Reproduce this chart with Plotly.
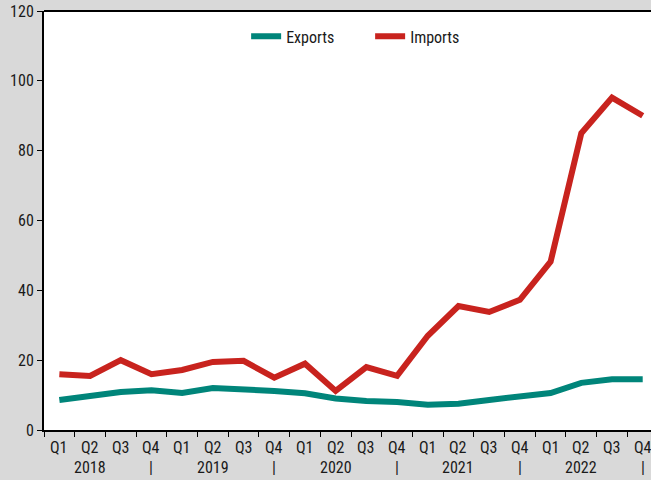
import plotly.graph_objects as go

quarters = ["Q1", "Q2", "Q3", "Q4"] * 5
years = ["2018", "2019", "2020", "2021", "2022"]
exports = [8.6, 9.7, 10.9, 11.4, 10.6, 12.0, 11.7, 11.2, 10.5, 9.0,
           8.3, 8.0, 7.2, 7.5, 8.6, 9.4, 10.6, 13.5, 14.5, 14.5]
imports = [16.0, 15.5, 20.0, 16.0, 17.2, 19.5, 19.8, 15.0, 19.0, 11.2,
           18.0, 15.5, 27.0, 35.5, 33.8, 37.3, 48.2, 85.0, 95.2, 90.0]

FONT = "Liberation Sans Narrow, Arial Narrow, Roboto Condensed, Liberation Sans, sans-serif"
TXT = "#1a1a1a"
x = list(range(len(quarters)))

fig = go.Figure()
fig.add_trace(go.Scatter(x=x, y=exports, mode="lines", name="Exports",
                         line=dict(color="#00857a", width=6)))
fig.add_trace(go.Scatter(x=x, y=imports, mode="lines", name="Imports",
                         line=dict(color="#c8231e", width=6)))

f16 = dict(size=16, color=TXT, family=FONT)
ann = []
for i, q in enumerate(quarters):
    ann.append(dict(x=i, y=0, xref="x", yref="paper", text=q, showarrow=False,
                    yanchor="top", yshift=-6, font=f16))
for k, yr in enumerate(years):
    ann.append(dict(x=4 * k + 1, y=0, xref="x", yref="paper", text=yr, showarrow=False,
                    yanchor="top", yshift=-26, font=f16))
    ann.append(dict(x=4 * k + 3, y=0, xref="x", yref="paper", text="|", showarrow=False,
                    yanchor="top", yshift=-26, font=f16))

fig.update_layout(
    width=651, height=480,
    margin=dict(l=44, r=0, t=11, b=50),
    paper_bgcolor="#d9d9d9", plot_bgcolor="white",
    font=f16,
    showlegend=True,
    legend=dict(orientation="h", x=0.333, y=0.98, xanchor="left", yanchor="top",
                bgcolor="rgba(0,0,0,0)", font=f16,
                itemwidth=30, entrywidth=79, traceorder="normal"),
    annotations=ann,
    xaxis=dict(range=[-0.5, 19.27], showgrid=False, zeroline=False,
               tickmode="array", tickvals=[i + 0.5 for i in range(-1, 20)],
               ticktext=[""] * 21, ticks="outside", ticklen=5, tickcolor="black",
               tickwidth=1, showline=True, linecolor="black", linewidth=2),
    yaxis=dict(range=[0, 120], dtick=20, showgrid=False, zeroline=False,
               ticks="outside", ticklen=5, tickcolor="black", tickwidth=1,
               showline=True, linecolor="black", linewidth=2,
               tickfont=f16),
    shapes=[dict(type="line", xref="paper", yref="paper", x0=0, x1=1, y0=1, y1=1,
                 line=dict(color="black", width=2))],
)

fig.write_html("out.html", post_script="document.body.style.margin='0';",
               config={"displayModeBar": False})
